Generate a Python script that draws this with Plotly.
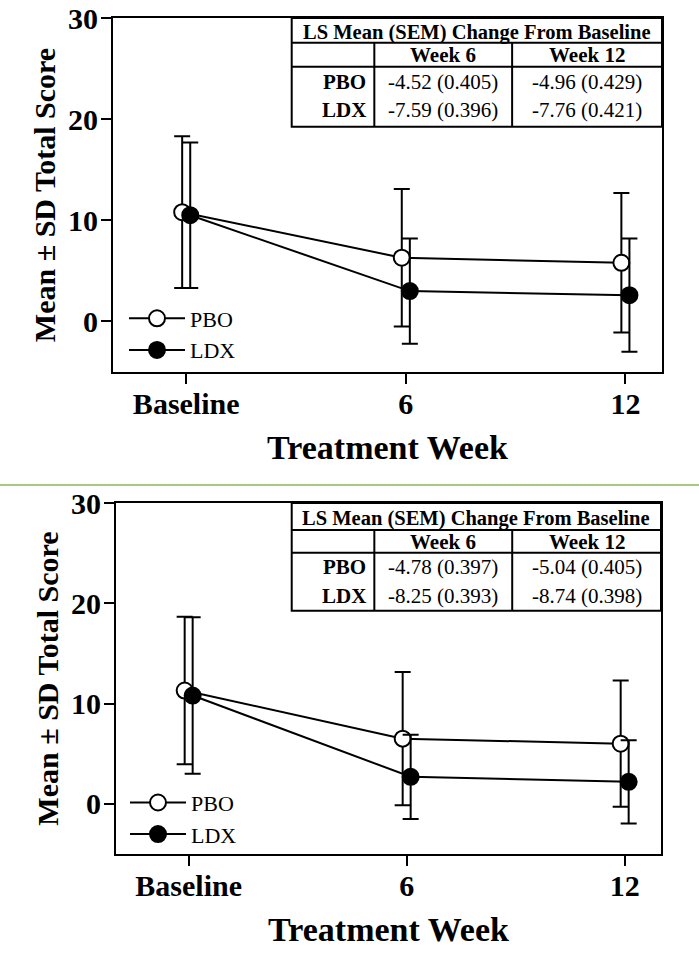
import plotly.graph_objects as go

# ---------------- data ----------------
weeks = [0, 6, 12]
week_labels = ["Baseline", "6", "12"]
group_names = ["PBO", "LDX"]

# top panel
s1_pbo_mean = [10.8, 6.3, 5.8]
s1_pbo_sd = [7.5, 6.8, 6.9]
s1_ldx_mean = [10.5, 3.0, 2.6]
s1_ldx_sd = [7.2, 5.2, 5.6]

# bottom panel
s2_pbo_mean = [11.3, 6.5, 6.0]
s2_pbo_sd = [7.35, 6.65, 6.3]
s2_ldx_mean = [10.8, 2.7, 2.2]
s2_ldx_sd = [7.8, 4.2, 4.15]

y_ticks = [0, 10, 20, 30]

table_title = "LS Mean (SEM) Change From Baseline"
table_cols = ["Week 6", "Week 12"]
s1_pbo_ls = ["-4.52 (0.405)", "-4.96 (0.429)"]
s1_ldx_ls = ["-7.59 (0.396)", "-7.76 (0.421)"]
s2_pbo_ls = ["-4.78 (0.397)", "-5.04 (0.405)"]
s2_ldx_ls = ["-8.25 (0.393)", "-8.74 (0.398)"]

# ---------------- style ----------------
SERIF = "Liberation Serif, Times New Roman, serif"
W, H = 699, 979
dodge = 0.11

fig = go.Figure()


def add_panel(xa, ya, legend, pbo_m, pbo_sd, ldx_m, ldx_sd):
    specs = [
        (group_names[0], pbo_m, pbo_sd, -dodge, "white"),
        (group_names[1], ldx_m, ldx_sd, dodge, "black"),
    ]
    for name, m, sd, off, fill in specs:
        fig.add_trace(go.Scatter(
            x=[w + off for w in weeks], y=m,
            mode="lines+markers", name=name,
            xaxis=xa, yaxis=ya, legend=legend,
            line=dict(color="black", width=2),
            marker=dict(symbol="circle", size=16, color=fill,
                        line=dict(color="black", width=2)),
            error_y=dict(type="data", array=sd, visible=True,
                         color="black", thickness=2, width=8),
        ))


add_panel("x", "y", "legend", s1_pbo_mean, s1_pbo_sd, s1_ldx_mean, s1_ldx_sd)
add_panel("x2", "y2", "legend2", s2_pbo_mean, s2_pbo_sd, s2_ldx_mean, s2_ldx_sd)

# panel geometry in pixels: (left, right, top, bottom)
top_px = (113, 662, 18, 372)
bot_px = (116, 661, 503, 854)


def dom(px):
    l, r, t, b = px
    return [l / W, r / W], [1 - b / H, 1 - t / H]


xd1, yd1 = dom(top_px)
xd2, yd2 = dom(bot_px)

axis_common = dict(
    showline=True, linecolor="black", linewidth=2, mirror=True,
    ticks="outside", ticklen=10, tickwidth=2, tickcolor="black",
    showgrid=False, zeroline=False, automargin=False,
    tickfont=dict(family=SERIF, size=30, color="black", weight="bold"),
)

x_common = dict(axis_common, range=[-2, 13], tickvals=weeks, ticktext=week_labels,
                ticklabelstandoff=-6,
                title=dict(text="<b>Treatment Week</b>",
                           font=dict(family=SERIF, size=34, color="black"),
                           standoff=16))
y_common = dict(axis_common, range=[-5, 30], tickvals=y_ticks,
                ticklabelstandoff=-3,
                title=dict(text="<b>Mean ± SD Total Score</b>",
                           font=dict(family=SERIF, size=30, color="black"),
                           standoff=4))

fig.update_layout(
    width=W, height=H,
    margin=dict(l=0, r=0, t=0, b=0, autoexpand=False),
    paper_bgcolor="white", plot_bgcolor="white",
    xaxis=dict(x_common, domain=xd1, anchor="y"),
    yaxis=dict(y_common, domain=yd1, anchor="x"),
    xaxis2=dict(x_common, domain=xd2, anchor="y2"),
    yaxis2=dict(y_common, domain=yd2, anchor="x2"),
    legend=dict(x=124 / W, xanchor="left", y=1 - 334.5 / H, yanchor="middle",
                font=dict(family=SERIF, size=22, color="black"),
                bgcolor="rgba(0,0,0,0)", itemwidth=56, tracegroupgap=0),
    legend2=dict(x=125 / W, xanchor="left", y=1 - 818.7 / H, yanchor="middle",
                 font=dict(family=SERIF, size=22, color="black"),
                 bgcolor="rgba(0,0,0,0)", itemwidth=56, tracegroupgap=0),
    showlegend=True,
)

shapes = []
annotations = []


def add_table(xa, ya, geom, pbo_vals, ldx_vals):
    xr, yr = xa + " domain", ya + " domain"
    left, c1, c2, right = geom["x"]
    top, h1, h2, bottom = geom["y"]
    ln = dict(color="black", width=2)
    shapes.append(dict(type="rect", xref=xr, yref=yr, x0=left, x1=right,
                       y0=bottom, y1=top, line=ln, fillcolor="white", layer="above"))
    shapes.append(dict(type="line", xref=xr, yref=yr, x0=left, x1=right, y0=h1, y1=h1, line=ln))
    shapes.append(dict(type="line", xref=xr, yref=yr, x0=left, x1=right, y0=h2, y1=h2, line=ln))
    shapes.append(dict(type="line", xref=xr, yref=yr, x0=c1, x1=c1, y0=bottom, y1=h1, line=ln))
    shapes.append(dict(type="line", xref=xr, yref=yr, x0=c2, x1=c2, y0=bottom, y1=h1, line=ln))
    ty = geom["ty"]
    annotations.append(dict(xref=xr, yref=yr, x=(left + right) / 2, y=ty[0],
                            xanchor="center", yanchor="middle",
                            text="<b>" + table_title + "</b>", showarrow=False,
                            font=dict(family=SERIF, size=20.5, color="black")))
    for cx, col in zip([(c1 + c2) / 2, (c2 + right) / 2], table_cols):
        annotations.append(dict(xref=xr, yref=yr, x=cx, y=ty[1], text="<b>" + col + "</b>",
                                xanchor="center", yanchor="middle",
                                showarrow=False, font=dict(family=SERIF, size=21, color="black")))
    for rowy, name, vals in [(ty[2], group_names[0], pbo_vals), (ty[3], group_names[1], ldx_vals)]:
        annotations.append(dict(xref=xr, yref=yr, x=c1 - 0.012, y=rowy,
                                xanchor="right", yanchor="middle",
                                text="<b>" + name + "</b>", showarrow=False,
                                font=dict(family=SERIF, size=21, color="black")))
        for cx, v in zip([(c1 + c2) / 2, (c2 + right) / 2], vals):
            annotations.append(dict(xref=xr, yref=yr, x=cx, y=rowy, text=v, showarrow=False,
                                    xanchor="center", yanchor="middle",
                                    font=dict(family=SERIF, size=21, color="black")))


add_table("x", "y",
          dict(x=[0.3255, 0.476, 0.727, 1.0], y=[1.0, 0.930, 0.8624, 0.693],
               ty=[0.9596, 0.8955, 0.820, 0.740]),
          s1_pbo_ls, s1_ldx_ls)
add_table("x2", "y2",
          dict(x=[0.3224, 0.474, 0.727, 1.0], y=[1.0, 0.923, 0.858, 0.693],
               ty=[0.9564, 0.890, 0.817, 0.735]),
          s2_pbo_ls, s2_ldx_ls)

# green separator between panels
shapes.append(dict(type="line", xref="paper", yref="paper", x0=0, x1=1,
                   y0=1 - 485 / H, y1=1 - 485 / H, line=dict(color="#a9c97e", width=2)))

fig.update_layout(shapes=shapes, annotations=annotations)

fig.write_html("out.html", config={"displayModeBar": False},
               post_script="document.body.style.margin='0px';")
